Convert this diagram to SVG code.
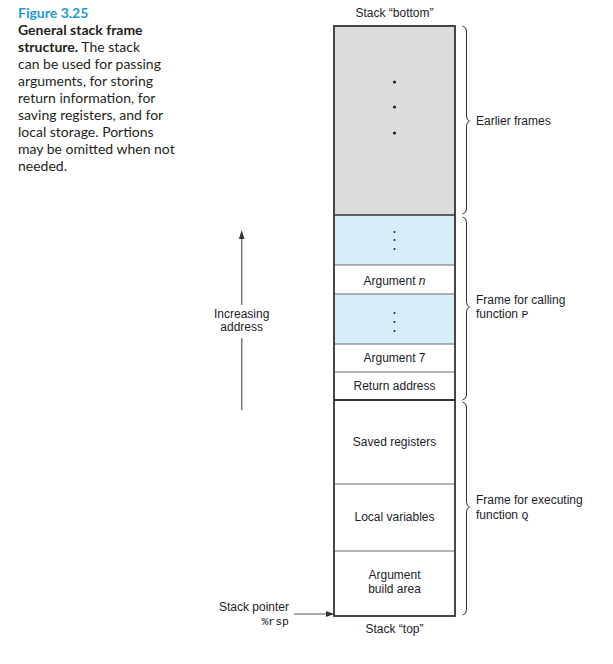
<svg xmlns="http://www.w3.org/2000/svg" width="613" height="664" viewBox="0 0 613 664">
<style>
.cap{font-family:Lato,"Open Sans",sans-serif;font-size:14px;fill:#231f20}
.lbl{font-family:"Liberation Sans",Arial,sans-serif;font-size:12px;fill:#1c1c2a}
.mono{font-family:"Liberation Mono","DejaVu Sans Mono",monospace;font-size:11.5px;fill:#1c1c2a}
.div{stroke:#6a6a6a;stroke-width:1.2}
.brace{fill:none;stroke:#333;stroke-width:1}
.dot{fill:#222}
</style>
<defs>
<marker id="ah" markerWidth="8" markerHeight="8" refX="7" refY="4" orient="auto" markerUnits="userSpaceOnUse">
<path d="M0,1 L8,4 L0,7 Z" fill="#333"/>
</marker>
</defs>
<g id="caption">
<text x="18" y="18" style="font-family:Lato,'Open Sans',sans-serif;font-size:14px;font-weight:bold;fill:#1e9ad6">Figure 3.25</text>
<text class="cap" x="18" y="35"><tspan font-weight="bold">General stack frame</tspan></text>
<text class="cap" x="18" y="52"><tspan font-weight="bold">structure.</tspan> The stack</text>
<text class="cap" x="18" y="69">can be used for passing</text>
<text class="cap" x="18" y="86">arguments, for storing</text>
<text class="cap" x="18" y="103">return information, for</text>
<text class="cap" x="18" y="120">saving registers, and for</text>
<text class="cap" x="18" y="137">local storage. Portions</text>
<text class="cap" x="18" y="154">may be omitted when not</text>
<text class="cap" x="18" y="171">needed.</text>
</g>
<g id="stack">
<rect x="334" y="26" width="121" height="189" fill="#dcdcdc"/>
<rect x="334" y="215" width="121" height="50" fill="#d5eef8"/>
<rect x="334" y="294" width="121" height="50" fill="#d5eef8"/>
<line class="div" x1="334" y1="265" x2="455" y2="265"/>
<line class="div" x1="334" y1="294" x2="455" y2="294"/>
<line class="div" x1="334" y1="344" x2="455" y2="344"/>
<line class="div" x1="334" y1="372" x2="455" y2="372"/>
<line class="div" x1="334" y1="484" x2="455" y2="484"/>
<line class="div" x1="334" y1="551" x2="455" y2="551"/>
<line x1="334" y1="215" x2="455" y2="215" stroke="#333" stroke-width="1.6"/>
<line x1="334" y1="400" x2="455" y2="400" stroke="#333" stroke-width="1.8"/>
<rect x="334" y="26" width="121" height="590" fill="none" stroke="#333" stroke-width="1.8"/>
<circle class="dot" cx="394.5" cy="82" r="1.6"/>
<circle class="dot" cx="394.5" cy="107" r="1.6"/>
<circle class="dot" cx="394.5" cy="133" r="1.6"/>
<circle class="dot" cx="394.5" cy="232" r="1"/>
<circle class="dot" cx="394.5" cy="240" r="1"/>
<circle class="dot" cx="394.5" cy="249" r="1"/>
<circle class="dot" cx="394.5" cy="313" r="1"/>
<circle class="dot" cx="394.5" cy="322" r="1"/>
<circle class="dot" cx="394.5" cy="331" r="1"/>
<text class="lbl" x="394.5" y="17" text-anchor="middle">Stack “bottom”</text>
<text class="lbl" x="394.5" y="285" text-anchor="middle">Argument <tspan font-style="italic">n</tspan></text>
<text class="lbl" x="394.5" y="362" text-anchor="middle">Argument 7</text>
<text class="lbl" x="394.5" y="390" text-anchor="middle">Return address</text>
<text class="lbl" x="394.5" y="446" text-anchor="middle">Saved registers</text>
<text class="lbl" x="394.5" y="521" text-anchor="middle">Local variables</text>
<text class="lbl" x="394.5" y="579" text-anchor="middle">Argument</text>
<text class="lbl" x="394.5" y="593" text-anchor="middle">build area</text>
<text class="lbl" x="394.5" y="633" text-anchor="middle">Stack “top”</text>
</g>
<g id="braces">
<path class="brace" d="M462.5,26 Q466.5,27 466.5,31 L466.5,116 Q466.5,120 469.5,121 Q466.5,122 466.5,126 L466.5,209 Q466.5,213 462.5,214"/>
<path class="brace" d="M462.5,217 Q466.5,218 466.5,222 L466.5,302 Q466.5,306 469.5,307 Q466.5,308 466.5,312 L466.5,395 Q466.5,399 462.5,400"/>
<path class="brace" d="M462.5,402 Q466.5,403 466.5,407 L466.5,502 Q466.5,506 469.5,507 Q466.5,508 466.5,512 L466.5,610 Q466.5,614 462.5,615"/>
<text class="lbl" x="476" y="125">Earlier frames</text>
<text class="lbl" x="476" y="304">Frame for calling</text>
<text class="lbl" x="476" y="318">function <tspan class="mono">P</tspan></text>
<text class="lbl" x="476" y="504">Frame for executing</text>
<text class="lbl" x="476" y="519">function <tspan class="mono">Q</tspan></text>
</g>
<g id="connectors">
<line x1="241.7" y1="410" x2="241.7" y2="338" stroke="#777" stroke-width="1.5"/>
<line x1="241.7" y1="305" x2="241.7" y2="236" stroke="#777" stroke-width="1.5"/>
<path d="M241.7,230 L244.5,239 L238.9,239 Z" fill="#333"/>
<line x1="294" y1="614" x2="333" y2="614" stroke="#555" stroke-width="1.2" marker-end="url(#ah)"/>
</g>
<g id="axis-labels">
<text class="lbl" x="241.7" y="318" text-anchor="middle">Increasing</text>
<text class="lbl" x="241.7" y="331" text-anchor="middle">address</text>
<text class="lbl" x="289" y="611" text-anchor="end">Stack pointer</text>
<text class="mono" x="289" y="625" text-anchor="end">%rsp</text>
</g>
</svg>
